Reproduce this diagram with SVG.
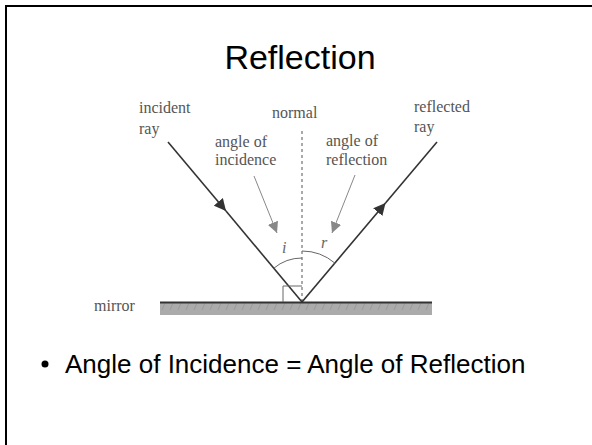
<svg xmlns="http://www.w3.org/2000/svg" width="592" height="445" viewBox="0 0 592 445">
<defs>
<style>
.lbl{font-family:"Liberation Serif","Times New Roman",serif;font-size:16px;fill:#555}
.it{font-family:"Liberation Serif","Times New Roman",serif;font-size:16px;font-style:italic;fill:#666}
.ray{stroke:#333;stroke-width:1.6;fill:none}
.ptr{stroke:#888;stroke-width:1;fill:none}
.thin{stroke:#666;stroke-width:1;fill:none}
</style>
<pattern id="hatch" width="8" height="12" patternUnits="userSpaceOnUse">
<rect width="8" height="12" fill="#ababab"/>
<path d="M2,10 L5,3" stroke="#9a9a9a" stroke-width="1"/>
</pattern>
<marker id="ah" viewBox="0 0 10 10" refX="10" refY="5" markerWidth="12" markerHeight="12" markerUnits="userSpaceOnUse" orient="auto">
<path d="M0,0 L10,5 L0,10 z" fill="#333"/>
</marker>
<marker id="ahg" viewBox="0 0 10 10" refX="10" refY="5" markerWidth="11" markerHeight="11" markerUnits="userSpaceOnUse" orient="auto">
<path d="M0,0 L10,5 L0,10 z" fill="#888"/>
</marker>
</defs>
<rect width="592" height="445" fill="#fff"/>
<path d="M6,445 V6 H592" stroke="#000" stroke-width="2" fill="none"/>
<text x="300" y="69" text-anchor="middle" font-family="Liberation Sans, Arial, sans-serif" font-size="34" fill="#000">Reflection</text>
<g id="bullet">
<circle cx="45" cy="364" r="3.5" fill="#000"/>
<text x="65" y="373" font-family="Liberation Sans, Arial, sans-serif" font-size="26" fill="#000">Angle of Incidence = Angle of Reflection</text>
</g>
<g id="mirror">
<rect x="160" y="303" width="272" height="12" fill="url(#hatch)"/>
<line x1="160" y1="302.5" x2="432" y2="302.5" stroke="#333" stroke-width="2"/>
<text class="lbl" x="94" y="311">mirror</text>
</g>
<g id="normal">
<line x1="302" y1="131" x2="302" y2="302" stroke="#555" stroke-width="1" stroke-dasharray="3,3"/>
<text class="lbl" x="272" y="118">normal</text>
</g>
<g id="incident">
<text class="lbl" x="139" y="113">incident</text>
<text class="lbl" x="139" y="134">ray</text>
</g>
<g id="reflected">
<text class="lbl" x="414" y="112">reflected</text>
<text class="lbl" x="414" y="132">ray</text>
</g>
<g id="angle-incidence">
<text class="lbl" x="215" y="147">angle of</text>
<text class="lbl" x="215" y="165">incidence</text>
<text class="it" x="282" y="253">i</text>
</g>
<g id="angle-reflection">
<text class="lbl" x="326" y="146">angle of</text>
<text class="lbl" x="326" y="165">reflection</text>
<text class="it" x="321" y="248">r</text>
</g>
<g id="connectors">
<path class="ray" d="M168,142 L226,211" marker-end="url(#ah)"/>
<path class="ray" d="M226,211 L302,302"/>
<path class="ray" d="M302,302 L385.5,203" marker-end="url(#ah)"/>
<path class="ray" d="M385.5,203 L437,142"/>
<path class="ptr" d="M254,176 L277,233" marker-end="url(#ahg)"/>
<path class="ptr" d="M355,175 L332,233" marker-end="url(#ahg)"/>
<path class="thin" d="M302,258 A44,44 0 0 0 273.7,268.3"/>
<path class="thin" d="M302,251 A51,51 0 0 1 334.9,263.1"/>
<path class="thin" d="M283,302 V286 H302"/>
</g>
</svg>
